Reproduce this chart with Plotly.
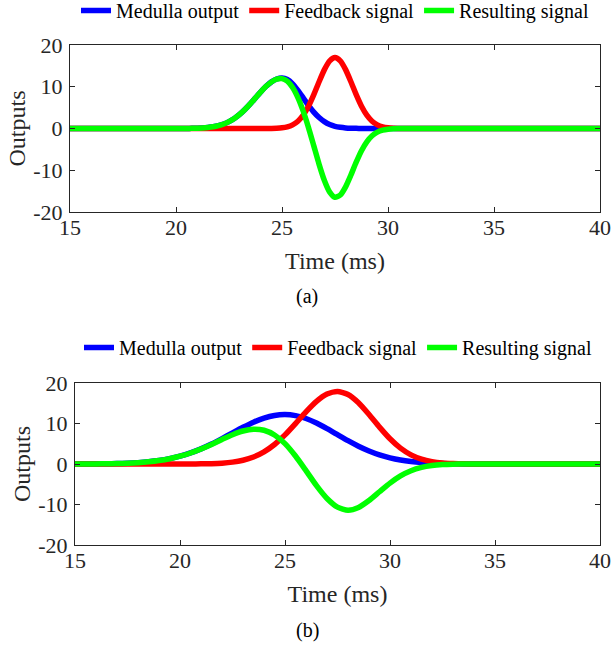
import plotly.graph_objects as go

# ---------------- data ----------------
# (a) sample times in ms and the three signals
time_a = [15, 19, 20.0, 20.25, 20.5, 20.75, 21.0, 21.25, 21.5, 21.75, 22.0, 22.25,
          22.5, 22.75, 23.0, 23.25, 23.5, 23.75, 24.0, 24.25, 24.5, 24.75, 25.0,
          25.25, 25.5, 25.75, 26.0, 26.25, 26.5, 26.75, 27.0, 27.25, 27.5, 27.75,
          28.0, 28.25, 28.5, 28.75, 29.0, 29.25, 29.5, 29.75, 30.0, 30.25, 30.5,
          30.75, 31.0, 32, 40]
medulla_a = [0, 0, 0.00, 0.01, 0.02, 0.04, 0.07, 0.13, 0.24, 0.41, 0.68, 1.08,
             1.64, 2.39, 3.36, 4.54, 5.89, 7.34, 8.79, 10.11, 11.17, 11.86, 12.10,
             11.73, 10.68, 9.13, 7.34, 5.54, 3.93, 2.62, 1.64, 0.96, 0.53, 0.28,
             0.13, 0.06, 0.03, 0.01, 0.00, 0, 0, 0, 0, 0, 0,
             0, 0, 0, 0]
feedback_a = [0, 0, 0, 0, 0, 0, 0, 0, 0, 0, 0, 0,
              0, 0, 0, 0, 0, 0, 0, 0.01, 0.02, 0.06, 0.16,
              0.39, 0.87, 1.74, 3.19, 5.32, 8.09, 11.20, 14.10, 16.20, 17.00, 16.20,
              14.10, 11.20, 8.09, 5.32, 3.19, 1.74, 0.87, 0.39, 0.16, 0.06, 0.02,
              0, 0, 0, 0]
result_a = [0, 0, 0.00, 0.01, 0.02, 0.04, 0.07, 0.13, 0.24, 0.41, 0.68, 1.08,
            1.64, 2.39, 3.36, 4.54, 5.89, 7.34, 8.79, 10.10, 11.15, 11.80, 11.94,
            11.34, 9.81, 7.39, 4.15, 0.22, -4.16, -8.58, -12.46, -15.24, -16.47, -15.92,
            -13.97, -11.14, -8.06, -5.31, -3.19, -1.74, -0.87, -0.39, -0.16, -0.06, -0.02,
            0, 0, 0, 0]

# (b) sample times in ms and the three signals
time_b = [15.0, 15.5, 16.0, 16.5, 17.0, 17.5, 18.0, 18.5, 19.0, 19.5, 20.0, 20.5,
          21.0, 21.5, 22.0, 22.5, 23.0, 23.5, 24.0, 24.5, 25.0, 25.5, 26.0, 26.5,
          27.0, 27.5, 28.0, 28.5, 29.0, 29.5, 30.0, 30.5, 31.0, 31.5, 32.0, 32.5,
          33.0, 33.5, 34.0, 34.5, 35.0, 36, 40]
medulla_b = [0.01, 0.02, 0.03, 0.06, 0.11, 0.19, 0.33, 0.54, 0.85, 1.30, 1.92, 2.73,
             3.74, 4.93, 6.27, 7.69, 9.07, 10.33, 11.33, 11.98, 12.20, 11.94, 11.23, 10.11,
             8.74, 7.25, 5.76, 4.40, 3.22, 2.26, 1.52, 0.98, 0.61, 0.36, 0.21, 0.11,
             0.06, 0.03, 0.01, 0.01, 0, 0, 0]
feedback_b = [0, 0, 0, 0, 0, 0, 0, 0, 0, 0, 0, 0.01,
              0.04, 0.09, 0.21, 0.46, 0.93, 1.73, 2.99, 4.81, 7.18, 9.98, 12.88, 15.46,
              17.26, 17.90, 17.16, 15.12, 12.24, 9.11, 6.23, 3.91, 2.26, 1.20, 0.59, 0.26,
              0.11, 0.04, 0.01, 0, 0, 0, 0]
result_b = [0.01, 0.02, 0.03, 0.06, 0.11, 0.19, 0.33, 0.54, 0.85, 1.30, 1.92, 2.72,
            3.70, 4.84, 6.06, 7.23, 8.14, 8.60, 8.34, 7.17, 5.02, 1.96, -1.65, -5.35,
            -8.52, -10.65, -11.40, -10.72, -9.02, -6.85, -4.71, -2.93, -1.65, -0.84, -0.38, -0.15,
            -0.05, -0.01, 0, 0, 0, 0, 0]

series_names = ["Medulla output", "Feedback signal", "Resulting signal"]
series_colors = ["#0000FF", "#FF0000", "#00FF00"]
x_ticks = [15, 20, 25, 30, 35, 40]
y_ticks = [-20, -10, 0, 10, 20]
y_tick_labels = ["-20", "-10", "0", "10", "20"]
x_title = "Time (ms)"
y_title = "Outputs"
captions = ["(a)", "(b)"]

# ---------------- figure ----------------
W, H = 611, 645
FONT = "Liberation Serif, Times New Roman, serif"
INK = "#262626"

fig = go.Figure()

panels = [
    (time_a, [medulla_a, feedback_a, result_a], "x", "y", "legend"),
    (time_b, [medulla_b, feedback_b, result_b], "x2", "y2", "legend2"),
]
for t, ys, xa, ya, lg in panels:
    for name, color, y in zip(series_names, series_colors, ys):
        fig.add_trace(go.Scatter(
            x=t, y=y, mode="lines", name=name,
            line=dict(color=color, width=5.5, shape="spline", smoothing=0.6),
            xaxis=xa, yaxis=ya, legend=lg, showlegend=True,
        ))

def px_x(p):
    return p / W

def px_y(p):
    return (H - p) / H

axis_common = dict(
    showline=True, linecolor=INK, linewidth=1, mirror="ticks",
    ticks="inside", ticklen=5, tickcolor=INK, tickwidth=1,
    showgrid=False, zeroline=False, automargin=False,
    tickfont=dict(family=FONT, size=22, color=INK),
    title_font=dict(family=FONT, size=24, color=INK),
)

fig.update_layout(
    width=W, height=H,
    margin=dict(l=0, r=0, t=0, b=0, autoexpand=False),
    paper_bgcolor="white", plot_bgcolor="white",
    font=dict(family=FONT, color="black"),
    xaxis=dict(domain=[px_x(70), px_x(600)], anchor="y", range=[15, 40],
               tickvals=x_ticks, ticklabelstandoff=-4,
               title=dict(text=x_title, standoff=12), **axis_common),
    yaxis=dict(domain=[px_y(212), px_y(45)], anchor="x", range=[-20, 20],
               tickvals=y_ticks, ticktext=y_tick_labels, ticklabelstandoff=2,
               title=dict(text=y_title, standoff=0), **axis_common),
    xaxis2=dict(domain=[px_x(75), px_x(600)], anchor="y2", range=[15, 40],
                tickvals=x_ticks, ticklabelstandoff=-4,
                title=dict(text=x_title, standoff=12), **axis_common),
    yaxis2=dict(domain=[px_y(545), px_y(383)], anchor="x2", range=[-20, 20],
                tickvals=y_ticks, ticktext=y_tick_labels, ticklabelstandoff=2,
                title=dict(text=y_title, standoff=0), **axis_common),
    legend=dict(orientation="h", x=px_x(335), xanchor="center",
                y=px_y(-9), yanchor="top", bgcolor="rgba(0,0,0,0)",
                font=dict(family=FONT, size=20, color="black"),
                itemwidth=30, tracegroupgap=0),
    legend2=dict(orientation="h", x=px_x(338), xanchor="center",
                 y=px_y(328), yanchor="top", bgcolor="rgba(0,0,0,0)",
                 font=dict(family=FONT, size=20, color="black"),
                 itemwidth=30, tracegroupgap=0),
    annotations=[
        dict(text=captions[0], x=px_x(307), y=px_y(297), xref="paper", yref="paper",
             xanchor="center", yanchor="middle", showarrow=False,
             font=dict(family=FONT, size=20, color="black")),
        dict(text=captions[1], x=px_x(307), y=px_y(630), xref="paper", yref="paper",
             xanchor="center", yanchor="middle", showarrow=False,
             font=dict(family=FONT, size=20, color="black")),
    ],
)

fig.write_html("out.html")
